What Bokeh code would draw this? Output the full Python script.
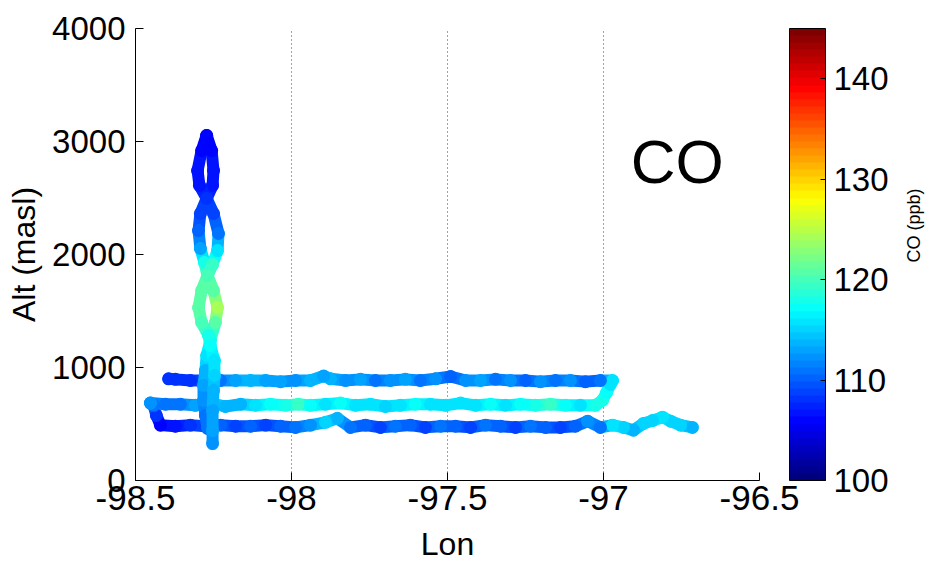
import numpy as np
from bokeh.plotting import figure
from bokeh.layouts import row
from bokeh.models import (ColumnDataSource, LinearColorMapper, ColorBar, FixedTicker,
                          Range1d, Label)
from bokeh.embed import file_html
from bokeh.resources import INLINE

# ---------------- data ----------------
# Horizontal legs: east end of lowest leg -> west -> middle leg east -> upper leg west
leg_lon = [-96.715, -96.753, -96.785, -96.811, -96.843, -96.872, -96.904, -96.936, -96.971, -97.010,
           -97.051, -97.090, -97.138, -97.186, -97.234, -97.282, -97.330, -97.378, -97.426, -97.474,
           -97.522, -97.571, -97.619, -97.667, -97.715, -97.763, -97.811, -97.853, -97.891, -97.939,
           -97.987, -98.035, -98.083, -98.131, -98.179, -98.227, -98.276, -98.324, -98.372, -98.420,
           -98.433, -98.442, -98.452,
           -98.452, -98.404, -98.356, -98.308, -98.260, -98.212, -98.163, -98.115, -98.067, -98.019,
           -97.978, -97.939, -97.891, -97.843, -97.795, -97.747, -97.699, -97.651, -97.603, -97.555,
           -97.506, -97.458, -97.410, -97.362, -97.314, -97.266, -97.218, -97.170, -97.122, -97.074,
           -97.026, -97.003, -96.990, -96.978,
           -96.971, -97.010, -97.058, -97.106, -97.154, -97.202, -97.250, -97.298, -97.346, -97.394,
           -97.442, -97.490, -97.538, -97.587, -97.635, -97.683, -97.731, -97.779, -97.827, -97.875,
           -97.897, -97.939, -97.987, -98.035, -98.083, -98.131, -98.179, -98.228, -98.276, -98.324,
           -98.372, -98.394]
leg_alt = [470, 490, 525, 560, 530, 505, 445, 470, 490, 470,
           525, 480, 470, 470, 480, 470, 480, 490, 470, 480,
           480, 470, 490, 480, 470, 490, 470, 550, 515, 490,
           470, 480, 490, 480, 480, 490, 480, 490, 480, 490,
           575, 665, 685,
           685, 675, 675, 665, 685, 655, 675, 665, 675, 665,
           675, 665, 675, 685, 665, 675, 655, 665, 675, 675,
           665, 685, 665, 675, 665, 675, 665, 675, 665, 665,
           665, 710, 780, 850,
           885, 885, 875, 885, 885, 875, 885, 885, 895, 885,
           885, 920, 900, 885, 895, 885, 885, 895, 885, 900,
           925, 885, 885, 875, 885, 885, 885, 885, 885, 885,
           895, 900]
leg_co = [114, 115, 115, 116, 115, 115, 114, 115, 116, 111,
          112, 110, 109, 110, 111, 109, 110, 111, 109, 110,
          111, 109, 110, 111, 109, 110, 111, 114, 115, 112,
          111, 110, 109, 110, 109, 110, 109, 108, 107, 106,
          108, 111, 112,
          112, 111, 111, 113, 115, 114, 114, 116, 117, 118,
          119, 117, 116, 117, 116, 116, 115, 116, 117, 116,
          116, 116, 116, 117, 116, 117, 118, 119, 117, 116,
          118, 118, 117, 116,
          116, 111, 110, 112, 111, 112, 110, 112, 111, 113,
          112, 110, 112, 111, 113, 112, 111, 113, 112, 114,
          113, 114, 112, 113, 113, 114, 113, 111, 109, 108,
          108, 108]

# Spiral, first strand (top -> bottom)
spa_lon = [-98.272, -98.288, -98.301, -98.295, -98.272, -98.250, -98.234, -98.237, -98.253, -98.269,
           -98.288, -98.298, -98.288, -98.266, -98.260, -98.247, -98.247, -98.250, -98.253, -98.253,
           -98.253]
spa_alt = [3053, 2920, 2743, 2611, 2496, 2363, 2186, 2035, 1912, 1814,
           1681, 1531, 1398, 1283, 1195, 1062, 929, 796, 619, 442,
           327]
spa_co = [106, 106, 107, 107, 108, 109, 111, 116, 119, 120,
          121, 121, 120, 118, 117, 116, 115, 114, 113, 113,
          112]

# Spiral, second strand (top -> bottom)
spb_lon = [-98.272, -98.256, -98.250, -98.253, -98.272, -98.292, -98.298, -98.292, -98.279, -98.269,
           -98.250, -98.237, -98.244, -98.260, -98.272, -98.276, -98.282, -98.282, -98.276, -98.269]
spb_alt = [3053, 2920, 2743, 2611, 2496, 2363, 2212, 2053, 1929, 1814,
           1681, 1531, 1398, 1239, 1106, 973, 841, 708, 575, 460]
spb_co = [106, 106, 107, 107, 108, 109, 110, 113, 118, 120,
          121, 124, 121, 117, 116, 114, 113, 112, 111, 111]

x_ticks = [-98.5, -98.0, -97.5, -97.0, -96.5]
x_tick_labels = ["-98.5", "-98", "-97.5", "-97", "-96.5"]
y_ticks = [0, 1000, 2000, 3000, 4000]
y_tick_labels = ["0", "1000", "2000", "3000", "4000"]
cb_ticks = [100, 110, 120, 130, 140]
co_low, co_high = 100, 145

# ---------------- jet palette (64 steps, like MATLAB) ----------------
def jet(n):
    out = []
    for i in range(n):
        t = i / (n - 1)
        r = min(max(1.5 - abs(4 * t - 3), 0), 1)
        g = min(max(1.5 - abs(4 * t - 2), 0), 1)
        b = min(max(1.5 - abs(4 * t - 1), 0), 1)
        out.append("#%02x%02x%02x" % (int(r * 255), int(g * 255), int(b * 255)))
    return out

palette = jet(64)
mapper = LinearColorMapper(palette=palette, low=co_low, high=co_high)

FONT = "Liberation Sans"
TICK_FS = "33px"

p = figure(frame_width=624, frame_height=452,
           min_border_left=135, min_border_top=28, min_border_bottom=87, min_border_right=136,
           x_range=Range1d(-98.5, -96.5), y_range=Range1d(0, 4000),
           output_backend="svg", toolbar_location=None, tools="")
p.outline_line_color = None
p.background_fill_color = "white"
p.border_fill_color = "white"

# axes
p.xaxis.ticker = FixedTicker(ticks=x_ticks)
p.xaxis.major_label_overrides = dict(zip(x_ticks, x_tick_labels))
p.yaxis.ticker = FixedTicker(ticks=y_ticks)
p.yaxis.major_label_overrides = dict(zip(y_ticks, y_tick_labels))
for ax in (p.xaxis, p.yaxis):
    ax.major_tick_in = 8
    ax.major_tick_out = 0
    ax.minor_tick_line_color = None
    ax.axis_line_color = "black"
    ax.major_tick_line_color = "black"
    ax.major_label_text_font = FONT
    ax.major_label_text_font_size = TICK_FS
    ax.major_label_text_color = "black"
    ax.axis_label_text_font = FONT
    ax.axis_label_text_font_size = "32px"
    ax.axis_label_text_font_style = "normal"
    ax.axis_label_text_color = "black"
p.xaxis.major_label_text_font_size = "35px"
p.xaxis.axis_label = "Lon"
p.yaxis.axis_label = "Alt (masl)"
p.xaxis.major_label_standoff = 5
p.yaxis.major_label_standoff = 10
p.xaxis.axis_label_standoff = 13
p.yaxis.axis_label_standoff = 7

p.ygrid.grid_line_color = None
p.xgrid.ticker = FixedTicker(ticks=x_ticks[1:])
p.xgrid.grid_line_color = "#444444"
p.xgrid.grid_line_dash = "1 3"
p.xgrid.grid_line_width = 1

# track segments + points
def add_track(lons, alts, cos):
    lons = np.asarray(lons, float)
    alts = np.asarray(alts, float)
    cos = np.asarray(cos, float)
    seg = ColumnDataSource(dict(x0=lons[:-1], y0=alts[:-1], x1=lons[1:], y1=alts[1:],
                                c=(cos[:-1] + cos[1:]) / 2))
    p.segment("x0", "y0", "x1", "y1", source=seg, line_width=12, line_cap="round",
              line_color={"field": "c", "transform": mapper})
    pts = ColumnDataSource(dict(x=lons, y=alts, c=cos))
    p.scatter("x", "y", source=pts, size=13, line_color=None,
              fill_color={"field": "c", "transform": mapper})

add_track(leg_lon, leg_alt, leg_co)
add_track(spb_lon, spb_alt, spb_co)
add_track(spa_lon, spa_alt, spa_co)

# big "CO" label
p.add_layout(Label(x=-96.913, y=2820, text="CO", text_font=FONT, text_font_size="62px",
                   text_color="black", text_baseline="alphabetic", text_align="left"))

# color bar
cb = ColorBar(color_mapper=mapper, ticker=FixedTicker(ticks=cb_ticks), width=36, height=452,
              location=(30, 0),
              bar_line_color="black", border_line_color=None, background_fill_color=None,
              major_tick_line_color="black", major_tick_in=5, major_tick_out=0,
              minor_tick_line_color=None,
              major_label_text_font=FONT, major_label_text_font_size=TICK_FS,
              major_label_text_color="black", label_standoff=8, padding=0)
p.add_layout(cb, "right")

# narrow side figure carrying the vertical colour-bar title
q = figure(width=35, height=567, x_range=Range1d(0, 1), y_range=Range1d(0, 1),
           min_border=0, output_backend="svg", toolbar_location=None, tools="")
q.axis.visible = False
q.grid.grid_line_color = None
q.outline_line_color = None
q.add_layout(Label(x=0.54, y=0.564, text="CO (ppb)", angle=np.pi / 2,
                   text_font=FONT, text_font_size="18px", text_color="black",
                   text_align="center", text_baseline="middle"))

open("out.html", "w").write(file_html(row(p, q), INLINE))
